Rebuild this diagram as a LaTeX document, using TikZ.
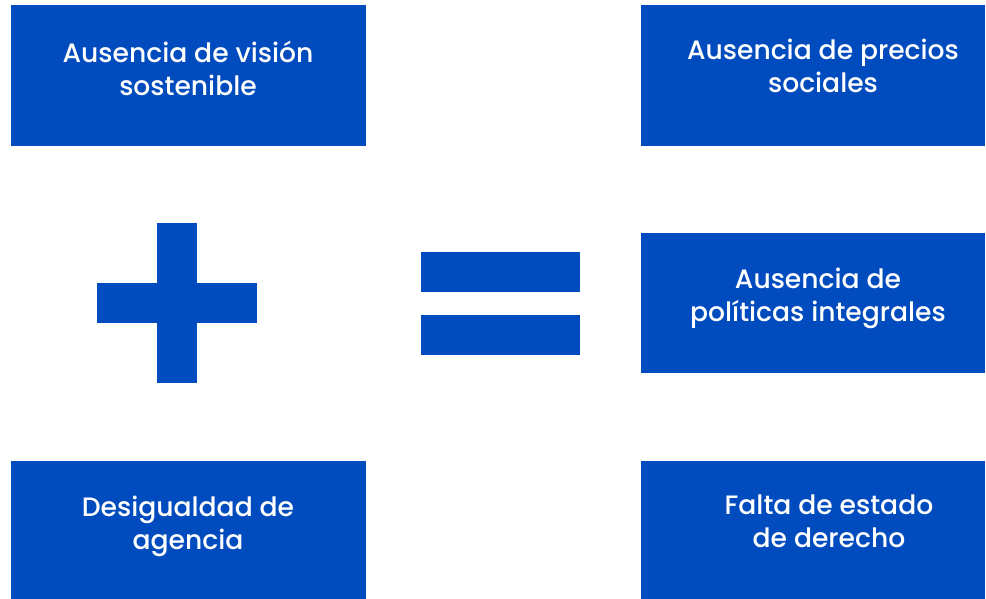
\documentclass[tikz,border=0pt]{standalone}
\usepackage{fontspec}
\setmainfont{Poppins}[UprightFont={* Medium}]
\definecolor{boxblue}{RGB}{0,76,190}

\begin{document}
\begin{tikzpicture}[x=1pt, y=-1pt,
    box/.style={fill=boxblue, draw=none},
    label/.style={text=white, align=center, font=\fontsize{26.6}{33}\selectfont}]
    % Canvas
    \useasboundingbox (0,0) rectangle (986,599);

    % Blue boxes
    \fill[box] (11,5) rectangle (366,146) coordinate (vision);
    \fill[box] (641,5) rectangle (985,146) coordinate (precios);
    \fill[box] (641,233) rectangle (985,373) coordinate (politicas);
    \fill[box] (11,461) rectangle (366,599) coordinate (agencia);
    \fill[box] (641,461) rectangle (985,599) coordinate (derecho);

    % Texts
    \node[label] (tvision) at (188,68) {Ausencia de visión\\sostenible};
    \node[label] (tprecios) at (823,66) {Ausencia de precios\\sociales};
    \node[label] (tpoliticas) at (818,298) {Ausencia de\\políticas integrales};
    \node[label] (tagencia) at (188,526) {Desigualdad de\\agencia};
    \node[label] (tderecho) at (829,521) {Falta de estado\\de derecho};

    % Plus sign
    \fill[box] (157,223) rectangle (197,383);
    \fill[box] (97,283) rectangle (257,323);

    % Equals sign
    \fill[box] (421,252) rectangle (580,292);
    \fill[box] (421,315) rectangle (580,355);
\end{tikzpicture}
\end{document}
